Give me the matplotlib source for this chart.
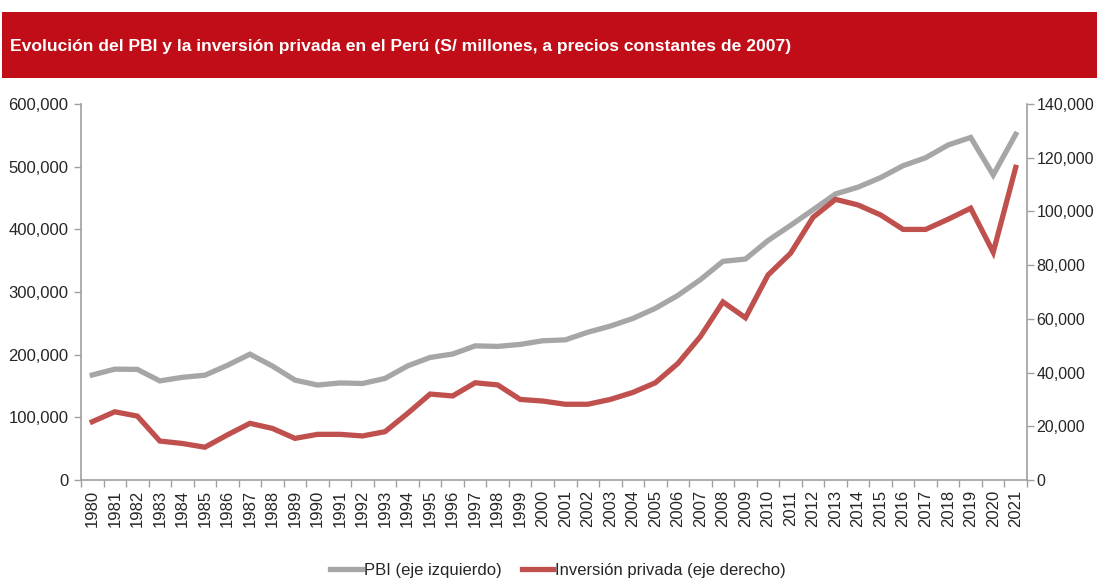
import matplotlib
matplotlib.use("Agg")
import matplotlib.pyplot as plt
from matplotlib.lines import Line2D
from matplotlib.patches import Rectangle
from matplotlib.ticker import FuncFormatter

years = list(range(1980, 2022))

# PBI, S/ millones a precios de 2007 (eje izquierdo)
pbi = [167596, 176901, 176507, 158136, 163842, 167219, 182981, 200778,
       181822, 159436, 151492, 154854, 154017, 162093, 182044, 195536,
       201009, 214028, 213190, 216377, 222207, 223580, 235773, 245593,
       257770, 273971, 294598, 319693, 348923, 352584, 382081, 406256,
       431199, 456435, 467308, 482506, 501581, 514215, 534626, 546605,
       486737, 551714]

# Inversión privada, S/ millones a precios de 2007 (eje derecho)
inversion = [21700, 25400, 23800, 14500, 13600, 12200, 16800, 21100,
             19200, 15500, 17000, 17000, 16400, 18000, 24800, 32000,
             31300, 36200, 35400, 30000, 29400, 28200, 28200, 30000,
             32600, 36200, 43400, 53400, 66300, 60400, 76300, 84400,
             97800, 104500, 102400, 98700, 93300, 93300, 97100, 101200,
             84800, 116400]

left_ticks = [0, 100000, 200000, 300000, 400000, 500000, 600000]
right_ticks = [0, 20000, 40000, 60000, 80000, 100000, 120000, 140000]

title = "Evolución del PBI y la inversión privada en el Perú (S/ millones, a precios constantes de 2007)"
label_pbi = "PBI (eje izquierdo)"
label_inv = "Inversión privada (eje derecho)"

plt.rcParams["font.family"] = ["Liberation Sans", "DejaVu Sans"]

GRAY = "#A6A6A6"
RED = "#C0504D"
AXIS = "#A0A0A0"
TEXT = "#262626"

fig = plt.figure(figsize=(10.97, 5.81), dpi=100)

# Title banner
fig.patches.append(Rectangle((0.002, 1 - 78 / 581), 0.998, 66 / 581,
                             transform=fig.transFigure, facecolor="#C00D17",
                             edgecolor="none", zorder=0))
fig.text(10 / 1097, 1 - 46 / 581, title, color="white", fontsize=12.6,
         fontweight="bold", va="center", ha="left")

ax = fig.add_axes([81 / 1097, 1 - 480 / 581, 946 / 1097, 376 / 581])
ax2 = ax.twinx()

x = list(range(len(years)))
ax.plot(x, pbi, color=GRAY, lw=3.8, solid_joinstyle="miter", zorder=3)
ax2.plot(x, inversion, color=RED, lw=3.8, solid_joinstyle="miter", zorder=3)

ax.set_xlim(-0.5, len(years) - 0.5)
ax.set_ylim(0, 600000)
ax2.set_ylim(0, 140000)

fmt = FuncFormatter(lambda v, p: f"{int(v):,}")
ax.set_yticks(left_ticks)
ax.yaxis.set_major_formatter(fmt)
ax2.set_yticks(right_ticks)
ax2.yaxis.set_major_formatter(fmt)

ax.set_xticks(x)
ax.set_xticklabels([str(y) for y in years], rotation=90)
ax.set_xticks([i - 0.5 for i in range(len(years) + 1)], minor=True)
ax.tick_params(axis="x", which="major", length=0, pad=7, labelsize=12, labelcolor=TEXT)
ax.tick_params(axis="x", which="minor", length=5, color=AXIS, width=1)
ax.tick_params(axis="y", length=5, color=AXIS, width=1, labelsize=12, labelcolor=TEXT, pad=4)
ax2.tick_params(axis="y", length=5, color=AXIS, width=1, labelsize=11.5, labelcolor=TEXT, pad=2)

for a in (ax, ax2):
    a.spines["top"].set_visible(False)
    for s in ("left", "right", "bottom"):
        a.spines[s].set_color(AXIS)
        a.spines[s].set_linewidth(1.2)
ax.spines["right"].set_visible(False)
ax2.spines["left"].set_visible(False)
ax2.spines["bottom"].set_visible(False)

handles = [Line2D([], [], color=GRAY, lw=3.8), Line2D([], [], color=RED, lw=3.8)]
fig.legend(handles, [label_pbi, label_inv], loc="center",
           bbox_to_anchor=(558 / 1097, 1 - 570 / 581), ncol=2, frameon=False,
           fontsize=12, handlelength=1.9, handletextpad=0.1, columnspacing=1.2,
           labelcolor=TEXT)

fig.savefig("out.png", dpi=100)
